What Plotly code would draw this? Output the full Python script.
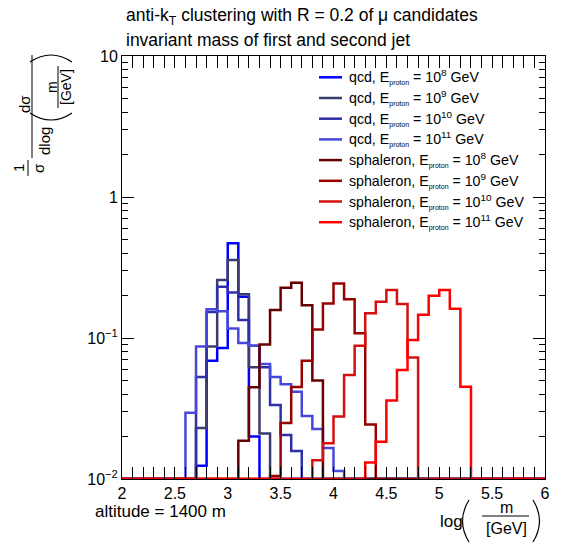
import plotly.graph_objects as go

# ---------------- data ----------------
# bins of width 0.1 in log(m/GeV); listed bins start at 2.6 and end at 5.3
first_bin_low = 2.6
bin_width = 0.1
x_axis_range = [2.0, 6.0]
y_axis_min = 0.01

qcd_1e8 = [0, 0.0124, 0.069, 0.085, 0.47, 0.196, 0.020, 0, 0, 0, 0, 0, 0, 0,
           0, 0, 0, 0, 0, 0, 0, 0, 0, 0, 0, 0, 0]
qcd_1e9 = [0, 0.023, 0.087, 0.258, 0.357, 0.204, 0.062, 0.021, 0, 0, 0, 0, 0, 0,
           0, 0, 0, 0, 0, 0, 0, 0, 0, 0, 0, 0, 0]
qcd_1e10 = [0, 0.053, 0.153, 0.231, 0.21, 0.134, 0.088, 0.062, 0.0335, 0.0205, 0.0158, 0, 0, 0,
            0, 0, 0, 0, 0, 0, 0, 0, 0, 0, 0, 0, 0]
qcd_1e11 = [0.0295, 0.087, 0.16, 0.155, 0.117, 0.092, 0.088, 0.0655, 0.053, 0.047, 0.0416, 0.028, 0.0226, 0.0166,
            0.0114, 0, 0, 0, 0, 0, 0, 0, 0, 0, 0, 0, 0]
sph_1e8 = [0, 0, 0, 0, 0, 0.0187, 0.0447, 0.090, 0.158, 0.227, 0.247, 0.171, 0.050, 0,
           0, 0, 0, 0, 0, 0, 0, 0, 0, 0, 0, 0, 0]
sph_1e9 = [0, 0, 0, 0, 0, 0, 0, 0, 0.0105, 0.025, 0.045, 0.069, 0.115, 0.176,
           0.244, 0.188, 0.108, 0.0244, 0, 0, 0, 0, 0, 0, 0, 0, 0]
sph_1e10 = [0, 0, 0, 0, 0, 0, 0, 0, 0, 0, 0, 0, 0.0136, 0.0179,
            0.0277, 0.0547, 0.088, 0.150, 0.181, 0.219, 0.174, 0.0726, 0, 0, 0, 0, 0]
sph_1e11 = [0, 0, 0, 0, 0, 0, 0, 0, 0, 0, 0, 0, 0, 0,
            0, 0, 0, 0.0131, 0.0184, 0.036, 0.0593, 0.0968, 0.146, 0.199, 0.219, 0.161, 0.0452]

series_values = [qcd_1e8, qcd_1e9, qcd_1e10, qcd_1e11, sph_1e8, sph_1e9, sph_1e10, sph_1e11]
series_kind = ["qcd", "qcd", "qcd", "qcd", "sphaleron", "sphaleron", "sphaleron", "sphaleron"]
series_exponent = ["8", "9", "10", "11", "8", "9", "10", "11"]
series_colors = ["#0000ff", "#3b3b6e", "#2f2fa8", "#4747dc",
                 "#660000", "#990000", "#d41010", "#ff0000"]

title_lines = ["anti-k<sub>T</sub> clustering with R = 0.2 of \u03bc candidates",
               "invariant mass of first and second jet"]
note_text = "altitude = 1400 m"
x_tick_step = 0.5
y_tick_vals = [0.01, 0.1, 1, 10]
y_tick_text = ["10<sup>\u22122</sup>", "10<sup>\u22121</sup>", "1", "10"]

# ---------------- layout geometry (pixels) ----------------
W, H = 564, 543
PL, PR, PT, PB = 122, 545, 56, 479
FONT = "Liberation Sans, Arial, Helvetica, sans-serif"


def pp(x, y):
    return (x - PL) / (PR - PL), (PB - y) / (PB - PT)


fig = go.Figure()

n_total = int(round((x_axis_range[1] - x_axis_range[0]) / bin_width))
offset = int(round((first_bin_low - x_axis_range[0]) / bin_width))
edges = [round(x_axis_range[0] + i * bin_width, 3) for i in range(n_total + 1)]

for vals, col in zip(series_values, series_colors):
    full = [0.0] * n_total
    for i, v in enumerate(vals):
        full[offset + i] = v
    ys = [v if v > 0 else y_axis_min for v in full]
    ys = ys + [ys[-1]]
    fig.add_trace(go.Scatter(x=edges, y=ys, mode="lines", line_shape="hv",
                             line=dict(color=col, width=2.5), showlegend=False,
                             hoverinfo="skip"))

# empty helper trace so the minor-tick overlay axis is drawn
fig.add_trace(go.Scatter(x=[None], y=[None], yaxis="y2", showlegend=False, hoverinfo="skip"))

annotations = []
shapes = []


def text(x, y, s, size, anchor="center", angle=0, color="black"):
    ax, ay = pp(x, y)
    annotations.append(dict(x=ax, y=ay, xref="paper", yref="paper", text=s,
                            showarrow=False, xanchor=anchor, yanchor="middle",
                            textangle=angle, font=dict(family=FONT, size=size, color=color)))


def line(x0, y0, x1, y1, color="black", width=1):
    a0, b0 = pp(x0, y0)
    a1, b1 = pp(x1, y1)
    shapes.append(dict(type="line", xref="paper", yref="paper", x0=a0, y0=b0, x1=a1, y1=b1,
                       line=dict(color=color, width=width)))


def qpath(p0, c, p1, width=1.2):
    a0, b0 = pp(*p0)
    ac, bc = pp(*c)
    a1, b1 = pp(*p1)
    shapes.append(dict(type="path", xref="paper", yref="paper",
                       path=f"M {a0} {b0} Q {ac} {bc} {a1} {b1}",
                       line=dict(color="black", width=width)))


# title
text(124, 17, title_lines[0], 17.5, anchor="left")
text(124, 40, title_lines[1], 17.5, anchor="left")

# legend (manual)
leg_y0, leg_dy = 77.3, 20.7
for i, (kind, ex, col) in enumerate(zip(series_kind, series_exponent, series_colors)):
    yy = leg_y0 + i * leg_dy
    line(319, yy, 342, yy, color=col, width=2.5)
    lab = (f"{kind}, E<sub><span style='font-size:7px'>proton</span></sub> = "
           f"10<sup>{ex}</sup> GeV")
    text(347, yy, lab, 14.2, anchor="left")

# note
text(93, 511, note_text, 17, anchor="left")

# x-axis title: log( m / [GeV] )
text(451, 521, "log", 17)
qpath((469, 500), (456, 521), (469, 542))
text(506, 507, "m", 16)
line(482, 516, 529, 516, width=1)
text(506, 528, "[GeV]", 16)
qpath((533, 500), (546, 521), (533, 542))

# y-axis title: 1/sigma  d sigma / dlog( m / [GeV] )   (rotated)
text(18, 168, "1", 15, angle=-90)
line(28, 160, 28, 176, width=1)
text(38, 168, "\u03c3", 15, angle=-90)
text(24, 104, "d\u03c3", 15, angle=-90)
line(32, 55, 32, 158, width=1)
text(44, 141, "dlog", 15, angle=-90)
qpath((30, 113), (51, 127), (72, 113))
text(52, 87, "m", 14, angle=-90)
line(58, 66, 58, 108, width=1)
text(66, 87, "[GeV]", 14, angle=-90)
qpath((30, 62), (51, 48), (72, 62))

fig.update_layout(
    width=W, height=H,
    margin=dict(l=PL, r=W - PR, t=PT, b=H - PB, pad=0),
    paper_bgcolor="white", plot_bgcolor="white",
    font=dict(family=FONT, size=16, color="black"),
    annotations=annotations, shapes=shapes,
    xaxis=dict(range=x_axis_range, tick0=x_axis_range[0], dtick=x_tick_step,
               ticks="inside", ticklen=12, tickwidth=1, tickcolor="black",
               minor=dict(dtick=bin_width, ticks="inside", ticklen=6, tickcolor="black"),
               showline=True, linecolor="black", linewidth=1, mirror="allticks",
               showgrid=False, zeroline=False, tickfont=dict(size=16)),
    yaxis=dict(type="log", range=[-2, 1], tickmode="array", tickvals=y_tick_vals,
               ticktext=y_tick_text, ticks="inside", ticklen=12, tickwidth=1, tickcolor="black",
               showline=True, linecolor="black", linewidth=1, mirror="allticks",
               showgrid=False, zeroline=False, tickfont=dict(size=16)),
    yaxis2=dict(type="log", range=[-2, 1], overlaying="y", side="left",
                tickmode="linear", tick0=0, dtick="D1", showticklabels=False,
                ticks="inside", ticklen=6, tickwidth=1, tickcolor="black",
                showline=False, mirror="allticks", showgrid=False, zeroline=False),
)

fig.write_html("out.html", config={"displayModeBar": False},
               post_script="document.body.style.margin='0';")
